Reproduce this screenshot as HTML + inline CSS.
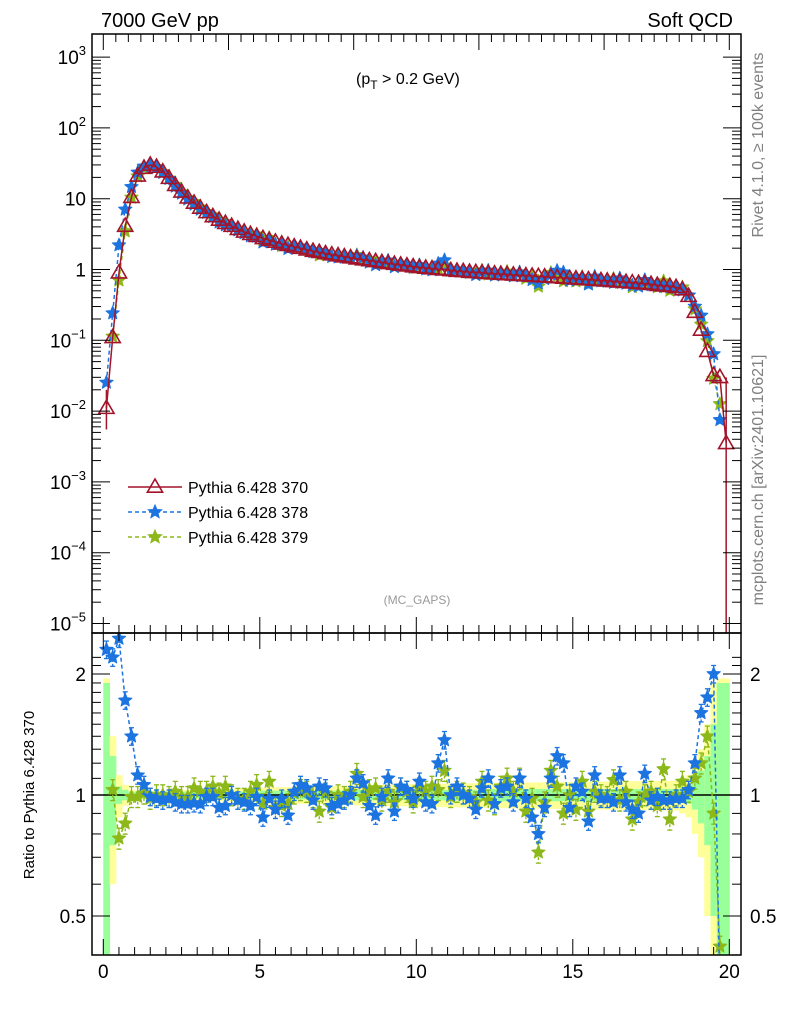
<!DOCTYPE html>
<html><head><meta charset="utf-8"><style>
html,body{margin:0;padding:0;background:#fff;}
svg{display:block;font-family:"Liberation Sans",sans-serif;}
</style></head><body>
<svg id="chart" width="786" height="1024" viewBox="0 0 786 1024" xmlns="http://www.w3.org/2000/svg">
<g id="bands"></g>
<g id="marks"></g>
<g id="axes"></g>
<text x="101" y="27" font-size="20">7000 GeV pp</text>
<text x="733" y="27" font-size="20" text-anchor="end">Soft QCD</text>
<text x="356" y="84" font-size="16">(p<tspan font-size="12" dy="5">T</tspan><tspan dy="-5"> &gt; 0.2 GeV)</tspan></text>
<text x="417" y="604" font-size="12" fill="#999" text-anchor="middle">(MC_GAPS)</text>
<text transform="translate(763,145) rotate(-90)" font-size="16" fill="#808080" text-anchor="middle">Rivet 4.1.0, ≥ 100k events</text>
<text transform="translate(763,480) rotate(-90)" font-size="16" fill="#808080" text-anchor="middle">mcplots.cern.ch [arXiv:2401.10621]</text>
<text transform="translate(34,795) rotate(-90)" font-size="15" text-anchor="middle">Ratio to Pythia 6.428 370</text>
<g id="legend"></g>
</svg>
<script>
const xCenters=[0.1,0.3,0.5,0.7,0.9,1.1,1.3,1.5,1.7,1.9,2.1,2.3,2.5,2.7,2.9,3.1,3.3,3.5,3.7,3.9,4.1,4.3,4.5,4.7,4.9,5.1,5.3,5.5,5.7,5.9,6.1,6.3,6.5,6.7,6.9,7.1,7.3,7.5,7.7,7.9,8.1,8.3,8.5,8.7,8.9,9.1,9.3,9.5,9.7,9.9,10.1,10.3,10.5,10.7,10.9,11.1,11.3,11.5,11.7,11.9,12.1,12.3,12.5,12.7,12.9,13.1,13.3,13.5,13.7,13.9,14.1,14.3,14.5,14.7,14.9,15.1,15.3,15.5,15.7,15.9,16.1,16.3,16.5,16.7,16.9,17.1,17.3,17.5,17.7,17.9,18.1,18.3,18.5,18.7,18.9,19.1,19.3,19.5,19.7,19.9];
const ref370=[0.011,0.11,0.9,4.1,10.5,21,27,30,28,24,19.5,15.5,12.5,10.3,8.7,7.4,6.4,5.6,5.0,4.5,4.1,3.7,3.4,3.15,2.95,2.75,2.6,2.45,2.3,2.2,2.1,2.0,1.9,1.82,1.75,1.68,1.62,1.57,1.52,1.47,1.42,1.38,1.34,1.3,1.26,1.22,1.19,1.16,1.13,1.1,1.07,1.05,1.03,1.01,0.99,0.97,0.95,0.94,0.92,0.91,0.9,0.88,0.87,0.86,0.85,0.84,0.83,0.82,0.81,0.8,0.79,0.78,0.77,0.76,0.75,0.74,0.73,0.72,0.71,0.7,0.69,0.68,0.67,0.66,0.65,0.64,0.63,0.62,0.6,0.59,0.58,0.56,0.52,0.42,0.25,0.14,0.07,0.032,0.03,0.0035];
const ratio378=[2.3,2.2,2.45,1.72,1.4,1.12,1.06,0.99,0.98,0.97,0.98,0.96,0.95,0.95,0.955,0.95,0.99,0.99,0.93,0.94,1.0,0.97,0.96,0.94,0.99,0.88,0.98,0.92,0.98,0.89,1.02,1.06,1.04,0.97,1.05,1.04,0.94,0.95,0.97,1.0,1.1,1.07,0.94,0.89,0.99,1.1,0.91,1.05,1.03,0.98,1.08,0.96,0.95,1.2,1.37,1.0,1.05,1.0,0.98,0.92,1.04,1.1,0.95,1.04,1.05,0.96,1.1,0.98,0.88,0.8,0.93,1.1,1.25,1.2,0.93,1.05,1.02,0.86,1.12,0.98,0.98,0.96,1.12,0.96,0.92,0.9,1.13,0.97,0.99,0.97,0.97,0.98,0.98,1.03,1.2,1.6,1.75,2.0,0.25,null];
const ratio379=[null,1.03,0.78,0.85,0.99,0.99,1.01,0.98,1.0,1.0,0.99,1.02,0.99,0.99,1.04,1.02,1.02,1.05,1.01,1.05,1.0,0.98,0.98,1.02,1.06,0.95,1.08,0.93,0.94,0.95,1.01,1.03,1.02,0.99,0.91,1.01,0.93,1.0,0.99,1.02,1.13,0.99,1.03,1.04,0.97,1.02,0.96,1.04,1.02,0.96,1.04,1.02,1.05,1.03,1.15,0.99,1.02,1.01,0.99,0.96,1.08,0.97,0.95,1.05,1.1,1.02,1.1,0.91,0.98,0.72,0.96,1.15,1.05,0.9,1.0,0.92,1.08,0.91,1.02,1.0,0.99,1.09,0.97,1.02,0.87,0.96,1.0,1.02,0.94,1.16,0.87,1.0,1.08,1.02,1.1,1.2,1.4,0.9,0.42,null];
const bandStat=[0.9,0.25,0.05,0.03,0.02,0.02,0.02,0.02,0.02,0.02,0.02,0.02,0.02,0.02,0.02,0.02,0.02,0.02,0.02,0.02,0.02,0.02,0.02,0.02,0.02,0.025,0.025,0.025,0.025,0.025,0.025,0.025,0.025,0.025,0.025,0.025,0.025,0.025,0.025,0.025,0.03,0.03,0.03,0.03,0.03,0.03,0.03,0.03,0.03,0.03,0.03,0.03,0.03,0.03,0.03,0.03,0.03,0.03,0.03,0.03,0.035,0.035,0.035,0.035,0.035,0.035,0.035,0.035,0.035,0.035,0.035,0.035,0.035,0.035,0.035,0.035,0.035,0.035,0.035,0.035,0.035,0.035,0.035,0.035,0.035,0.035,0.035,0.035,0.035,0.035,0.035,0.035,0.04,0.05,0.08,0.15,0.25,0.5,0.9,0.9];
const bandTot=[0.95,0.4,0.12,0.06,0.03,0.025,0.025,0.025,0.025,0.025,0.025,0.028,0.03,0.03,0.03,0.032,0.034,0.035,0.036,0.037,0.038,0.039,0.04,0.041,0.042,0.043,0.044,0.045,0.046,0.047,0.048,0.049,0.05,0.05,0.051,0.052,0.053,0.054,0.055,0.056,0.057,0.058,0.058,0.059,0.06,0.061,0.062,0.062,0.063,0.064,0.065,0.065,0.066,0.067,0.067,0.068,0.068,0.069,0.07,0.07,0.071,0.071,0.072,0.072,0.073,0.073,0.074,0.074,0.075,0.075,0.076,0.076,0.077,0.077,0.078,0.078,0.079,0.079,0.08,0.08,0.08,0.081,0.081,0.082,0.082,0.083,0.083,0.084,0.084,0.085,0.085,0.086,0.1,0.12,0.2,0.3,0.5,0.9,0.95,0.95];
const xTicks=[0,5,10,15,20];
const mainTickExp=[-5,-4,-3,-2,-1,0,1,2,3];
const ratioTicks=[0.5,1,2];

const NS="http://www.w3.org/2000/svg";
const FL=92,FR=741,MT=34,MB=633,RT=633,RB=955;
const X0=103.3,XS=31.3;
const xS=v=>X0+XS*v;
const yM=v=>269.5-70.8*Math.log10(v);
const yR=r=>795-121*Math.log2(r);
const clamp=(v,a,b)=>Math.max(a,Math.min(b,v));
function mk(tag,attrs,parent){const e=document.createElementNS(NS,tag);for(const k in attrs)e.setAttribute(k,attrs[k]);parent.appendChild(e);return e;}
const gB=document.getElementById('bands'),gM=document.getElementById('marks'),gA=document.getElementById('axes'),gL=document.getElementById('legend');

for(let i=0;i<xCenters.length;i++){
  const xl=xS(xCenters[i]-0.1),xr=xS(xCenters[i]+0.1);
  const t=bandTot[i],s=bandStat[i];
  const y1=clamp(yR(1+t),RT,RB),y2=clamp(yR(Math.max(1-t,0.01)),RT,RB);
  const r1=mk('rect',{x:xl,y:y1,width:xr-xl+0.5,height:y2-y1,fill:'#ffff99'},gB);
  
  
  const y3=clamp(yR(1+s),RT,RB),y4=clamp(yR(Math.max(1-s,0.01)),RT,RB);
  const r2=mk('rect',{x:xl,y:y3,width:xr-xl+0.5,height:y4-y3,fill:'#99ff99'},gB);
  
  
}
const ref=mk('line',{x1:FL,x2:FR,y1:yR(1),y2:yR(1),stroke:'#000','stroke-width':1.5},gB);



function star(cx,cy,r){let p=[];for(let k=0;k<10;k++){const a=-Math.PI/2+k*Math.PI/5,rr=k%2?r*0.45:r;p.push((cx+rr*Math.cos(a)).toFixed(1)+','+(cy+rr*Math.sin(a)).toFixed(1));}return p.join(' ');}
function tri(cx,cy,r){return `${cx},${cy-r} ${cx-r*0.95},${cy+r*0.65} ${cx+r*0.95},${cy+r*0.65}`;}

function drawSeries(vals,yf,top,bot,color,dash,kind,name,err){
  const g=mk('g',{},gM);
  
  
  let pts=[];
  for(let i=0;i<vals.length;i++){if(vals[i]==null||vals[i]<=0)continue;pts.push([xS(xCenters[i]),yf(vals[i]),vals[i]]);}
  const d=pts.map((p,i)=>(i?'L':'M')+p[0].toFixed(1)+','+clamp(p[1],top-40,bot+40).toFixed(1)).join(' ');
  const cp='clip'+name;
  const c=mk('clipPath',{id:cp},g);mk('rect',{x:FL,y:top,width:FR-FL,height:bot-top},c);
  const gg=mk('g',{'clip-path':`url(#${cp})`},g);
  mk('path',{d:d,fill:'none',stroke:color,'stroke-width':1.5,'stroke-dasharray':dash},gg);
  for(const p of pts){
    if(err){const ya=yf(p[2]*(1+err)),yb=yf(p[2]*(1-err));
      mk('line',{x1:p[0],x2:p[0],y1:ya,y2:yb,stroke:color,'stroke-width':1.3,'stroke-dasharray':'3,2'},gg);
      mk('line',{x1:p[0]-2.5,x2:p[0]+2.5,y1:ya,y2:ya,stroke:color,'stroke-width':1.3},gg);
      mk('line',{x1:p[0]-2.5,x2:p[0]+2.5,y1:yb,y2:yb,stroke:color,'stroke-width':1.3},gg);}
  }
  for(const p of pts){
    if(p[1]<top-5||p[1]>bot+5)continue;
    let m;
    if(kind==='tri')m=mk('polygon',{points:tri(p[0],p[1],8),fill:'none',stroke:color,'stroke-width':1.6},gg);
    else m=mk('polygon',{points:star(p[0],p[1],7),fill:color,stroke:color,'stroke-width':1,'stroke-linejoin':'round'},gg);
    
    
  }
}
const v378=ref370.map((v,i)=>ratio378[i]==null?null:v*ratio378[i]);
const v379=ref370.map((v,i)=>ratio379[i]==null?null:v*ratio379[i]);
drawSeries(v379,yM,MT,MB,'#8cb81a','4,3','star','main-379',0);
drawSeries(v378,yM,MT,MB,'#1c74e0','4,3','star','main-378',0);
drawSeries(ref370,yM,MT,MB,'#a3142a','none','tri','main-370',0);
const e1=mk('line',{x1:xS(0.1),x2:xS(0.1),y1:yM(0.02),y2:yM(0.0055),stroke:'#a3142a','stroke-width':1.5},gM);

const e2=mk('line',{x1:xS(19.9),x2:xS(19.9),y1:yM(0.03),y2:MB,stroke:'#a3142a','stroke-width':1.5},gM);

drawSeries(ratio379,yR,RT,RB,'#8cb81a','4,3','star','ratio-379',0.06);
drawSeries(ratio378,yR,RT,RB,'#1c74e0','4,3','star','ratio-378',0.05);

for(const [t,b,n] of [[MT,MB,'main-frame'],[RT,RB,'ratio-frame']]){
  const r=mk('rect',{x:FL,y:t,width:FR-FL,height:b-t,fill:'none',stroke:'#000','stroke-width':1.5},gA);
  
}
function tick(x1,y1,x2,y2){mk('line',{x1,y1,x2,y2,stroke:'#000','stroke-width':1},gA);}
for(let v=0;v<=20.01;v+=0.5){const x=xS(v),maj=Math.abs(v%5)<0.01;const L=maj?16:8;
  tick(x,RB,x,RB-L);tick(x,RT,x,RT+L);tick(x,MB,x,MB-L);}
for(let v=0;v<=20.01;v+=0.4){const x=xS(v),maj=Math.abs(v/4-Math.round(v/4))<0.01;tick(x,MT,x,MT+(maj?16:8));}
for(const v of xTicks){const t=mk('text',{x:xS(v),y:978,'font-size':19,'text-anchor':'middle'},gA);t.textContent=v;
  }
for(const e of mainTickExp){const y=yM(Math.pow(10,e));tick(FL,y,FL+18,y);tick(FR,y,FR-18,y);
  if(e<3)for(let k=2;k<=9;k++){const yy=yM(k*Math.pow(10,e));if(yy<MT)continue;tick(FL,yy,FL+9,yy);tick(FR,yy,FR-9,yy);}
  const t=mk('text',{x:86,y:y+7,'font-size':19,'text-anchor':'end'},gA);
  
  if(e===0)t.textContent='1';else if(e===1)t.textContent='10';
  else{t.textContent='10';const s=mk('tspan',{dy:-9,'font-size':13},t);s.textContent=(e<0?'\u2212':'')+Math.abs(e);}
}
for(let r=0.4;r<=2.3;r+=0.1){const y=yR(r);if(y<RT||y>RB)continue;const maj=ratioTicks.some(q=>Math.abs(q-r)<0.001);const L=maj?18:9;tick(FL,y,FL+L,y);tick(FR,y,FR-L,y);}
for(const r of ratioTicks){const y=yR(r)+7;
  const a=mk('text',{x:86,y:y,'font-size':19,'text-anchor':'end'},gA);a.textContent=r;
  
  const b=mk('text',{x:750,y:y,'font-size':19},gA);b.textContent=r;
  }
const leg=[['Pythia 6.428 370','#a3142a','none','tri',487],['Pythia 6.428 378','#1c74e0','4,3','star',512],['Pythia 6.428 379','#8cb81a','4,3','star',537]];
for(const [lab,c,d,k,y] of leg){
  const g=mk('g',{},gL);
  
  
  mk('line',{x1:128,x2:182,y1:y,y2:y,stroke:c,'stroke-width':1.5,'stroke-dasharray':d},g);
  if(k==='tri')mk('polygon',{points:tri(155,y,8),fill:'none',stroke:c,'stroke-width':1.6},g);
  else mk('polygon',{points:star(155,y,7),fill:c,stroke:c},g);
  const t=mk('text',{x:188,y:y+6,'font-size':16},g);t.textContent=lab;
}
</script>
</body></html>
